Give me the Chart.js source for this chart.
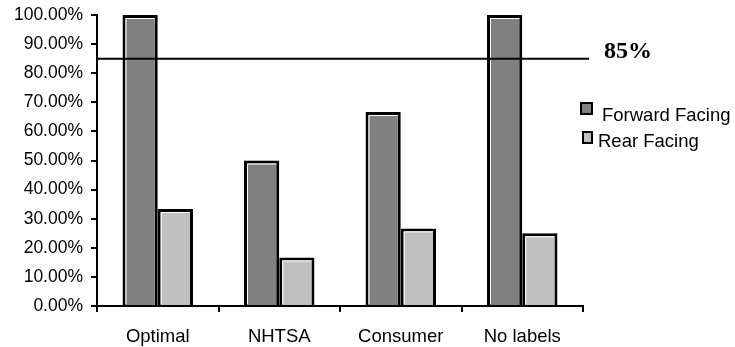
<!DOCTYPE html>
<html>
<head>
<meta charset="utf-8">
<script src="https://cdn.jsdelivr.net/npm/chart.js@4"></script>
<style>
  html, body { margin: 0; padding: 0; background: #fff; }
  #wrap { width: 735px; height: 347px; }
</style>
</head>
<body>
<div id="wrap"><canvas id="c" width="735" height="347"></canvas></div>
<script>
const categories = ['Optimal', 'NHTSA', 'Consumer', 'No labels'];
const forwardFacing = [100, 50, 66.67, 100];
const rearFacing = [33.33, 16.67, 26.67, 25];
const targetValue = 85;
const targetLabel = '85%';
const seriesNames = ['Forward Facing', 'Rear Facing'];
const seriesColors = ['#808080', '#c0c0c0'];

const FONT = "'Liberation Sans', Arial, sans-serif";

// White highlight along the left and top inner edges of each bar
const barHighlight = {
  id: 'barHighlight',
  afterDatasetsDraw(chart) {
    const ctx = chart.ctx;
    ctx.save();
    ctx.strokeStyle = '#ffffff';
    ctx.lineWidth = 1;
    chart.data.datasets.forEach((ds, i) => {
      chart.getDatasetMeta(i).data.forEach(bar => {
        const half = bar.width / 2;
        const l = bar.x - half + 3.5, r = bar.x + half - 3;
        const t = bar.y + 3.5, b = bar.base - 1;
        ctx.beginPath();
        ctx.moveTo(l, b);
        ctx.lineTo(l, t);
        ctx.lineTo(r, t);
        ctx.stroke();
      });
    });
    ctx.restore();
  }
};

// Horizontal target line with its label
const targetLine = {
  id: 'targetLine',
  afterDatasetsDraw(chart) {
    const ctx = chart.ctx;
    const y = chart.scales.y.getPixelForValue(targetValue);
    const a = chart.chartArea;
    ctx.save();
    ctx.strokeStyle = '#000';
    ctx.lineWidth = 2;
    ctx.beginPath();
    ctx.moveTo(a.left, y);
    ctx.lineTo(a.right + 6, y);
    ctx.stroke();
    ctx.fillStyle = '#000';
    ctx.font = "bold 24px 'Liberation Serif', 'Times New Roman', serif";
    ctx.textBaseline = 'middle';
    ctx.textAlign = 'left';
    ctx.fillText(targetLabel, a.right + 21, y - 7);
    ctx.restore();
  }
};

// Legend to the right of the plot
const sideLegend = {
  id: 'sideLegend',
  afterDraw(chart) {
    const ctx = chart.ctx;
    const a = chart.chartArea;
    const rows = [
      { box: [a.right - 2, 103, 11, 11], tx: a.right + 19, ty: 116 },
      { box: [a.right, 132, 9, 11], tx: a.right + 15, ty: 142 }
    ];
    ctx.save();
    ctx.font = '18.5px ' + FONT;
    ctx.textBaseline = 'middle';
    rows.forEach((r, i) => {
      const [x, y, w, h] = r.box;
      ctx.fillStyle = seriesColors[i];
      ctx.fillRect(x, y, w, h);
      ctx.strokeStyle = '#000';
      ctx.lineWidth = 2;
      ctx.strokeRect(x, y, w, h);
      ctx.fillStyle = '#000';
      ctx.fillText(seriesNames[i], r.tx, r.ty);
    });
    ctx.restore();
  }
};

new Chart(document.getElementById('c'), {
  type: 'bar',
  data: {
    labels: categories,
    datasets: [
      { label: seriesNames[0], data: forwardFacing, backgroundColor: seriesColors[0],
        borderColor: '#000', borderWidth: 3, borderSkipped: 'start', inflateAmount: 0 },
      { label: seriesNames[1], data: rearFacing, backgroundColor: seriesColors[1],
        borderColor: '#000', borderWidth: 3, borderSkipped: 'start', inflateAmount: 0 }
    ]
  },
  options: {
    responsive: false,
    animation: false,
    devicePixelRatio: 1,
    layout: { padding: { left: 0, right: 152, top: 15, bottom: 0 } },
    datasets: { bar: { categoryPercentage: 0.58, barPercentage: 1 } },
    plugins: { legend: { display: false }, tooltip: { enabled: false } },
    scales: {
      x: {
        grid: { display: true, drawOnChartArea: false, offset: true, tickLength: 6, color: '#000', lineWidth: 2 },
        border: { display: true, color: '#000', width: 2 },
        ticks: { color: '#000', font: { family: FONT, size: 18.5 }, padding: 14, maxRotation: 0 },
        afterFit(s) { s.height = 41; s.paddingLeft = 0; s.paddingRight = 0; }
      },
      y: {
        min: 0, max: 100,
        grid: { display: true, drawOnChartArea: false, tickLength: 6, color: '#000', lineWidth: 2 },
        border: { display: true, color: '#000', width: 2 },
        ticks: { stepSize: 10, color: '#000', font: { family: FONT, size: 17.5 }, padding: 8,
                 callback: v => v.toFixed(2) + '%' },
        afterFit(s) { s.width = 97; s.paddingTop = 0; s.paddingBottom = 0; }
      }
    }
  },
  plugins: [barHighlight, targetLine, sideLegend]
});
</script>
</body>
</html>
